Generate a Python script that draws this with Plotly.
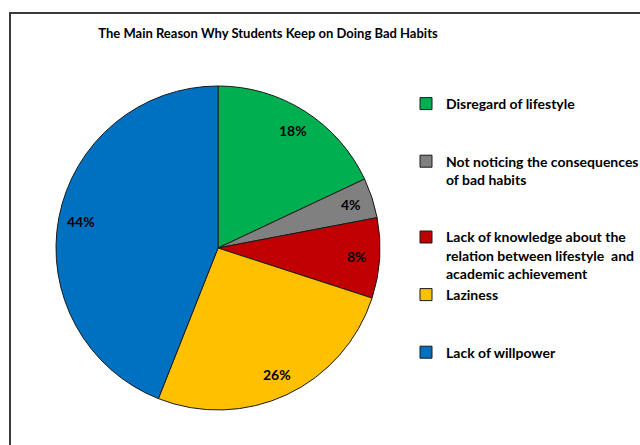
import math
import plotly.graph_objects as go

# ---- data ----
labels = [
    "Disregard of lifestyle",
    "Not noticing the consequences<br>of bad habits",
    "Lack of knowledge about the<br>relation between lifestyle  and<br>academic achievement",
    "Laziness",
    "Lack of willpower",
]
values = [18, 4, 8, 26, 44]
colors = ["#00B050", "#808080", "#C00000", "#FFC000", "#0070C0"]
title_text = "The Main Reason Why Students Keep on Doing Bad Habits"

# ---- layout helpers ----
W, H = 640, 445
FONT = "Lato"
cx, cy, R = 218, 248, 162          # pixel centre / radius of the pie
dom_x = [(cx - R) / W, (cx + R) / W]
dom_y = [(H - (cy + R)) / H, (H - (cy - R)) / H]

# blank lines appended so legend entries spread like the original
pad_lines = [2, 2, 0, 2, 0]
legend_text = [lab + "<br> " * p for lab, p in zip(labels, pad_lines)]

fig = go.Figure()
fig.add_trace(go.Pie(
    labels=legend_text,
    values=values,
    marker=dict(colors=colors, line=dict(color="#1a1a1a", width=1)),
    sort=False,
    direction="clockwise",
    rotation=0,
    textinfo="none",
    hoverinfo="label+percent",
    domain=dict(x=dom_x, y=dom_y),
))

# percentage labels placed at 0.86 R along each slice bisector
total = sum(values)
annotations = []
cum = 0
for v in values:
    mid = (cum + v / 2) / total * 2 * math.pi
    cum += v
    px = cx + 0.86 * R * math.sin(mid)
    py = cy - 0.86 * R * math.cos(mid)
    annotations.append(dict(
        x=px / W, y=1 - py / H, xref="paper", yref="paper",
        text=f"<b>{round(v / total * 100)}%</b>", showarrow=False,
        font=dict(family=FONT, size=14, color="#000000"),
        xanchor="center", yanchor="middle",
    ))

fig.update_layout(
    width=W, height=H,
    margin=dict(l=0, r=0, t=0, b=0, autoexpand=False),
    paper_bgcolor="white",
    plot_bgcolor="white",
    title=dict(
        text=f"<b>{title_text}</b>",
        x=268 / W, xanchor="center", y=1 - 33 / H, yanchor="middle",
        font=dict(family=FONT, size=13, color="#000000"),
    ),
    showlegend=True,
    legend=dict(
        x=406 / W, xanchor="left", y=1 - 88 / H, yanchor="top",
        font=dict(family=FONT, size=14, color="#000000", weight="bold"),
        bgcolor="rgba(0,0,0,0)",
        valign="top",
        traceorder="normal",
    ),
    annotations=annotations,
    shapes=[dict(
        type="rect", xref="paper", yref="paper",
        x0=10 / W, x1=1.02, y0=-0.02, y1=1 - 13 / H,
        line=dict(color="#3a3a3a", width=2), fillcolor="rgba(0,0,0,0)",
    )],
)

fig.write_html("out.html", config={"displayModeBar": False},
               post_script="document.body.style.margin='0';")
